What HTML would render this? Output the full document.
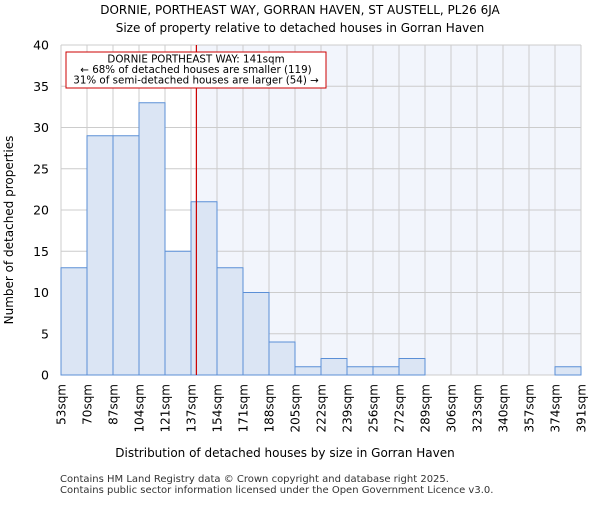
<!DOCTYPE html>
<html><head><meta charset="utf-8"><style>body{margin:0;background:#fff}svg{font-family:"DejaVu Sans","Liberation Sans",sans-serif}</style></head>
<body>
<svg id="c" width="600" height="500">
<text x="300" y="14" font-size="12" text-anchor="middle">DORNIE, PORTHEAST WAY, GORRAN HAVEN, ST AUSTELL, PL26 6JA</text>
<text x="300" y="32" font-size="12" text-anchor="middle">Size of property relative to detached houses in Gorran Haven</text>
<g id="plot"></g>
<text x="285" y="457" font-size="12" text-anchor="middle">Distribution of detached houses by size in Gorran Haven</text>
<text transform="translate(13,230) rotate(-90)" font-size="12" text-anchor="middle">Number of detached properties</text>
<text x="60" y="482" font-size="10" fill="#333">Contains HM Land Registry data © Crown copyright and database right 2025.</text>
<text x="60" y="493" font-size="10" fill="#333">Contains public sector information licensed under the Open Government Licence v3.0.</text>
</svg>
<script>
const binLabels=["53sqm","70sqm","87sqm","104sqm","121sqm","137sqm","154sqm","171sqm","188sqm","205sqm","222sqm","239sqm","256sqm","272sqm","289sqm","306sqm","323sqm","340sqm","357sqm","374sqm","391sqm"];
const counts=[13,29,29,33,15,21,13,10,4,1,2,1,1,2,0,0,0,0,0,1];
const yTicks=[0,5,10,15,20,25,30,35,40];
const propertySize=141;
const binStart=53, binEnd=391;
const L=61,R=581,T=45,B=375,yMax=40;
const ns="http://www.w3.org/2000/svg";
const g=document.getElementById('plot');
function mk(t,a){const e=document.createElementNS(ns,t);for(const k in a)e.setAttribute(k,a[k]);g.appendChild(e);return e;}
const bw=(R-L)/counts.length;
const xb=i=>L+i*bw;
const xv=v=>L+(v-binStart)/(binEnd-binStart)*(R-L);
const y=v=>B-v/yMax*(B-T);
const rx=xv(propertySize);
let bg=mk('rect',{x:rx,y:T,width:R-rx,height:B-T,fill:'#f2f5fc'});


yTicks.forEach(t=>{let l=mk('line',{x1:L,x2:R,y1:y(t),y2:y(t),stroke:'#ccc','stroke-width':1});


let tx=mk('text',{x:L-12,y:y(t)+4.5,'font-size':12.5,'text-anchor':'end'});tx.textContent=t;

});
binLabels.forEach((s,i)=>{let l=mk('line',{x1:xb(i),x2:xb(i),y1:T,y2:B,stroke:'#ccc','stroke-width':1});


let tx=mk('text',{transform:`translate(${xb(i)+4.5},${B+9}) rotate(-90)`,'font-size':12,'text-anchor':'end'});tx.textContent=s;

});
counts.forEach((c,i)=>{if(!c)return;let r=mk('rect',{x:xb(i),y:y(c),width:bw,height:B-y(c),fill:'#dbe5f4',stroke:'#5b8fd6','stroke-width':1});

});
let ml=mk('line',{x1:rx,x2:rx,y1:T,y2:B,stroke:'#cc0000','stroke-width':1.2});


let box=mk('rect',{x:66,y:52,width:260,height:36,fill:'#fff',stroke:'#cc0000','stroke-width':1});


["DORNIE PORTHEAST WAY: 141sqm","← 68% of detached houses are smaller (119)","31% of semi-detached houses are larger (54) →"].forEach((s,i)=>{let t=mk('text',{x:196,y:62.5+i*10.5,'font-size':10.3,'text-anchor':'middle'});t.textContent=s;

});
</script>
</body></html>
